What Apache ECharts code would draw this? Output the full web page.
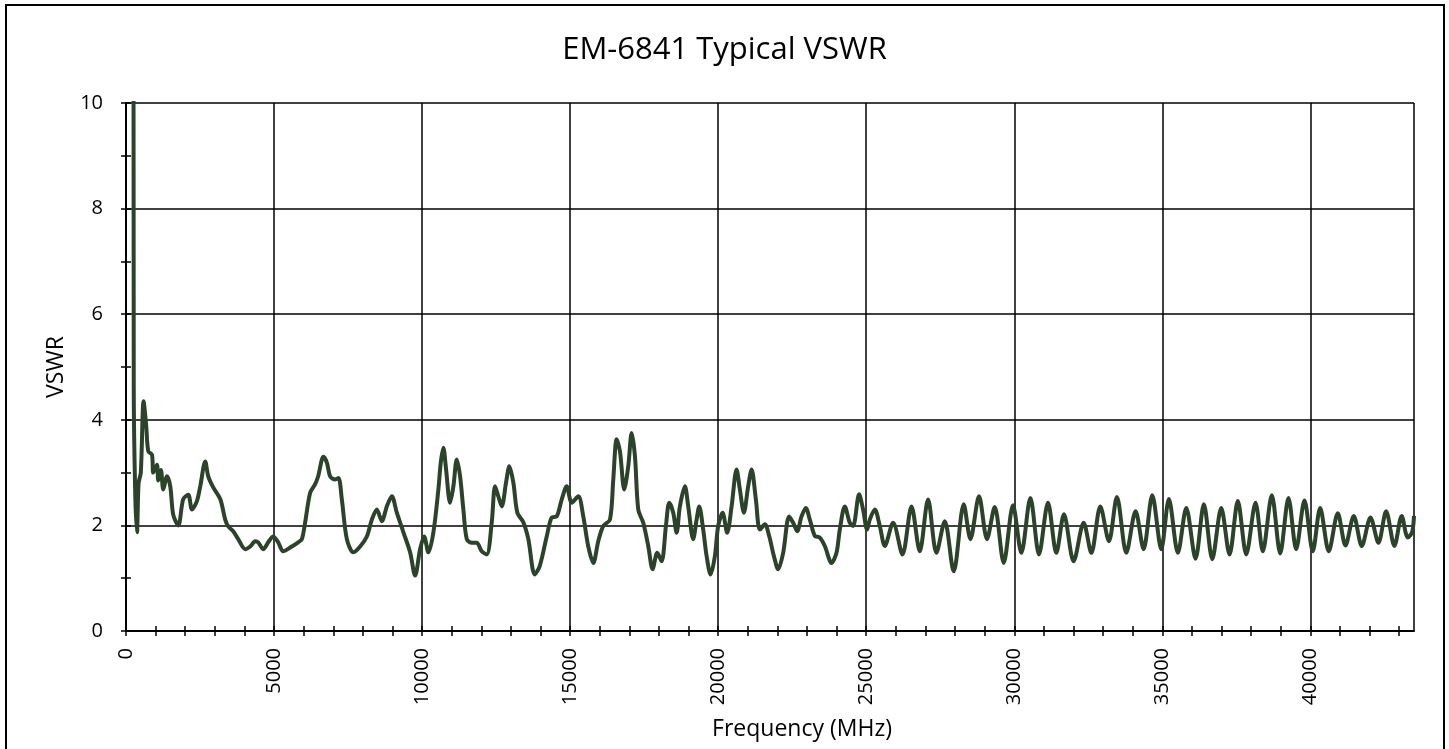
<!DOCTYPE html>
<html>
<head>
<meta charset="utf-8">
<title>EM-6841 Typical VSWR</title>
<script src="https://cdn.jsdelivr.net/npm/echarts@6/dist/echarts.min.js"></script>
<style>
  html, body { margin: 0; padding: 0; background: #fff; }
  #chart { width: 1449px; height: 749px; }
</style>
</head>
<body>
<div id="chart"></div>
<script>
// frequency (MHz) and VSWR
const freq = [
  250, 262, 314, 371, 425, 500, 594, 680, 753, 877, 921, 1046, 1090, 1180, 1259, 1384, 1495, 1596, 1765, 1934,
  2103, 2228, 2396, 2508, 2676, 2778, 2946, 3183, 3351, 3453, 3621, 3790, 4026, 4195, 4364, 4465, 4634, 4803, 4971, 5140,
  5309, 5545, 5815, 5940, 6051, 6220, 6389, 6490, 6669, 6784, 6895, 7064, 7175, 7290, 7459, 7682, 7908, 8134, 8303, 8471,
  8640, 8809, 8978, 9146, 9369, 9595, 9764, 9933, 10068, 10213, 10382, 10550, 10631, 10719, 10810, 10945, 11057, 11171, 11283, 11394,
  11509, 11678, 11846, 12015, 12184, 12353, 12464, 12575, 12690, 12835, 12947, 13082, 13217, 13419, 13588, 13804, 13973, 14209, 14378, 14546,
  14715, 14884, 15053, 15275, 15444, 15613, 15782, 15950, 16119, 16345, 16457, 16571, 16683, 16828, 16963, 17078, 17189, 17301, 17469, 17638,
  17786, 17941, 18090, 18235, 18347, 18482, 18596, 18707, 18876, 18988, 19157, 19271, 19359, 19494, 19609, 19744, 19889, 20000, 20149, 20304,
  20453, 20621, 20733, 20868, 21013, 21128, 21273, 21408, 21577, 21722, 21881, 22026, 22194, 22397, 22532, 22667, 22815, 22960, 23095, 23264,
  23433, 23601, 23828, 23996, 24107, 24276, 24445, 24557, 24759, 24894, 25029, 25120, 25289, 25458, 25627, 25908, 26224, 26528, 26808, 27088,
  27371, 27652, 27955, 28293, 28519, 28809, 29079, 29339, 29643, 29957, 30240, 30544, 30834, 31138, 31421, 31678, 32005, 32343, 32603, 32906,
  33197, 33467, 33784, 34097, 34367, 34661, 34965, 35222, 35526, 35809, 36123, 36403, 36686, 36990, 37270, 37550, 37834, 38148, 38394, 38698,
  38981, 39261, 39521, 39801, 40082, 40331, 40622, 40926, 41186, 41466, 41736, 42030, 42299, 42559, 42839, 43085, 43288, 43436, 43500
]
const vswr = [
  20, 4.6, 2.55, 1.87, 2.8, 3.0, 4.35, 3.9, 3.4, 3.34, 3.0, 3.15, 2.85, 3.05, 2.68, 2.93, 2.74, 2.2, 2.0, 2.5,
  2.58, 2.3, 2.46, 2.74, 3.21, 2.93, 2.72, 2.5, 2.11, 1.98, 1.89, 1.74, 1.55, 1.6, 1.7, 1.68, 1.55, 1.68, 1.79, 1.68,
  1.51, 1.58, 1.68, 1.74, 2.06, 2.62, 2.78, 2.93, 3.3, 3.19, 2.93, 2.87, 2.9, 2.49, 1.74, 1.49, 1.6, 1.79, 2.11, 2.3,
  2.08, 2.36, 2.55, 2.24, 1.87, 1.49, 1.05, 1.55, 1.79, 1.49, 1.87, 2.68, 3.19, 3.47, 3.06, 2.43, 2.74, 3.25, 2.93, 2.3,
  1.74, 1.67, 1.67, 1.51, 1.45, 2.06, 2.74, 2.55, 2.36, 2.81, 3.12, 2.81, 2.24, 2.06, 1.74, 1.07, 1.23, 1.79, 2.15, 2.17,
  2.49, 2.74, 2.43, 2.55, 2.17, 1.6, 1.29, 1.7, 1.99, 2.11, 2.87, 3.63, 3.4, 2.68, 3.12, 3.75, 3.31, 2.3, 2.05, 1.61,
  1.17, 1.48, 1.32, 1.99, 2.43, 2.24, 1.86, 2.36, 2.74, 2.36, 1.74, 2.11, 2.36, 1.92, 1.42, 1.07, 1.42, 1.99, 2.24, 1.86,
  2.36, 3.06, 2.68, 2.24, 2.74, 3.06, 2.49, 1.92, 2.02, 1.8, 1.42, 1.17, 1.48, 2.17, 2.05, 1.89, 2.17, 2.33, 2.11, 1.8,
  1.77, 1.61, 1.29, 1.48, 1.92, 2.36, 2.05, 1.99, 2.59, 2.3, 1.92, 2.11, 2.3, 1.99, 1.61, 2.05, 1.45, 2.36, 1.51, 2.49,
  1.48, 2.08, 1.13, 2.4, 1.74, 2.55, 1.74, 2.35, 1.29, 2.38, 1.48, 2.52, 1.45, 2.43, 1.48, 2.21, 1.32, 2.05, 1.48, 2.36,
  1.7, 2.54, 1.48, 2.27, 1.55, 2.57, 1.55, 2.5, 1.48, 2.33, 1.37, 2.4, 1.36, 2.33, 1.45, 2.46, 1.45, 2.43, 1.51, 2.57,
  1.47, 2.52, 1.55, 2.47, 1.51, 2.33, 1.51, 2.23, 1.62, 2.18, 1.61, 2.15, 1.67, 2.27, 1.61, 2.18, 1.77, 1.87, 2.18
]

// ticks
const xMinorTicks = []
for (let t = 0; t <= 43000; t += 1000) xMinorTicks.push(t)
const yMinorTicks = [0, 1, 2, 3, 4, 5, 6, 7, 8, 9, 10]

const xMax = 43500
const font = '"Open Sans", sans-serif'
const tickStyle = { color: '#000', width: 1.5 }

const chart = echarts.init(document.getElementById('chart'))

// axis that only draws ticks (outer or inner half of an Excel cross tick)
function tickAxis(min, max, pos, values, inside) {
  return {
    type: 'value',
    min: min,
    max: max,
    position: pos,
    axisLine: { show: false },
    axisTick: { show: true, inside: inside, length: 5, customValues: values, lineStyle: tickStyle },
    axisLabel: { show: false },
    splitLine: { show: false }
  }
}

const option = {
  animation: false,
  backgroundColor: '#fff',
  title: {
    text: 'EM-6841 Typical VSWR',
    left: 'center',
    top: 30,
    textStyle: { fontFamily: font, fontSize: 31, fontWeight: 'normal', color: '#000' }
  },
  graphic: [{
    // outer chart frame
    type: 'rect',
    shape: { x: 6, y: 5, width: 1438, height: 760 },
    style: { fill: 'none', stroke: '#000', lineWidth: 2 },
    silent: true
  }],
  grid: { left: 126, right: 35, top: 103, bottom: 118 },
  xAxis: [
    {
      type: 'value',
      min: 0,
      max: xMax,
      interval: 5000,
      name: 'Frequency (MHz)',
      nameLocation: 'middle',
      nameGap: 87,
      nameTextStyle: { fontFamily: font, fontSize: 23, color: '#000', padding: [0, 0, 0, 64] },
      axisLine: { lineStyle: { color: '#000', width: 2 } },
      axisTick: { show: false },
      axisLabel: {
        rotate: 90,
        margin: 17,
        showMaxLabel: false,
        formatter: v => String(v),
        fontFamily: font,
        fontSize: 20,
        color: '#000'
      },
      splitLine: { show: true, lineStyle: { color: '#000', width: 1.5 } }
    },
    tickAxis(0, xMax, 'bottom', xMinorTicks, false),
    tickAxis(0, xMax, 'bottom', xMinorTicks, true)
  ],
  yAxis: [
    {
      type: 'value',
      min: 0,
      max: 10,
      interval: 2,
      name: 'VSWR',
      nameLocation: 'middle',
      nameGap: 58,
      nameTextStyle: { fontFamily: font, fontSize: 23, color: '#000' },
      axisLine: { show: true, lineStyle: { color: '#000', width: 2 } },
      axisTick: { show: false },
      axisLabel: { margin: 23, fontFamily: font, fontSize: 20, color: '#000' },
      splitLine: { show: true, lineStyle: { color: '#000', width: 1.5 } }
    },
    tickAxis(0, 10, 'left', yMinorTicks, false),
    tickAxis(0, 10, 'left', yMinorTicks, true)
  ],
  series: [{
    name: 'VSWR',
    type: 'line',
    xAxisIndex: 0,
    yAxisIndex: 0,
    showSymbol: false,
    smooth: 0.3,
    clip: true,
    lineStyle: { color: '#2b4329', width: 4 },
    data: freq.map((f, i) => [f, vswr[i]])
  }]
}

chart.setOption(option)
</script>
</body>
</html>
